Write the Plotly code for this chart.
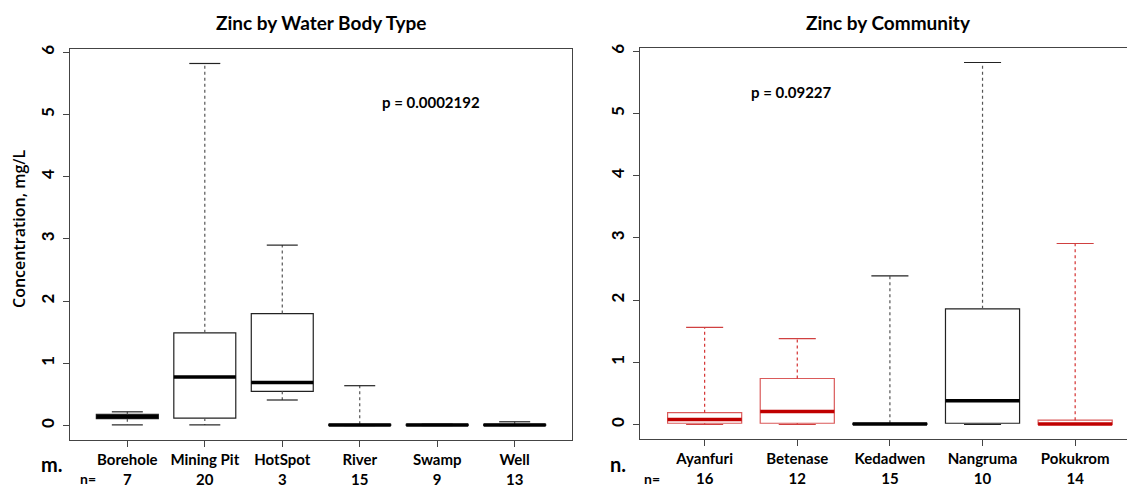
import plotly.graph_objects as go

# ---------------- data ----------------
water_types = ["Borehole", "Mining Pit", "HotSpot", "River", "Swamp", "Well"]
water_n = [7, 20, 3, 15, 9, 13]
water_min = [0.01, 0.01, 0.41, 0.00, 0.00, 0.00]
water_q1 = [0.11, 0.12, 0.55, 0.00, 0.00, 0.00]
water_med = [0.14, 0.78, 0.69, 0.01, 0.01, 0.01]
water_q3 = [0.18, 1.49, 1.80, 0.02, 0.02, 0.02]
water_max = [0.22, 5.82, 2.90, 0.64, 0.02, 0.06]
water_colors = ["black", "black", "black", "black", "black", "black"]

communities = ["Ayanfuri", "Betenase", "Kedadwen", "Nangruma", "Pokukrom"]
comm_n = [16, 12, 15, 10, 14]
comm_min = [0.00, 0.00, 0.00, 0.00, 0.00]
comm_q1 = [0.02, 0.02, 0.00, 0.02, 0.00]
comm_med = [0.08, 0.21, 0.01, 0.38, 0.01]
comm_q3 = [0.19, 0.74, 0.02, 1.86, 0.07]
comm_max = [1.56, 1.38, 2.39, 5.82, 2.91]
comm_colors = ["red", "red", "black", "black", "red"]

y_ticks = [0, 1, 2, 3, 4, 5, 6]
p_water = "p = 0.0002192"
p_comm = "p = 0.09227"

# ---------------- style ----------------
W, H = 1127, 487
FONT = "Lato"
STYLE = {
    "black": dict(box="#222222", med="#000000", whisk="#555555", cap="#222222"),
    "red": dict(box="#DA5A5A", med="#C00000", whisk="#D43030", cap="#D04040"),
}
BOXW = 0.8


def px_x(x):
    return x / W


def px_y(y):
    return 1 - y / H


fig = go.Figure()


def add_panel(cats, mins, q1s, meds, q3s, maxs, colors, xa, ya):
    for i, c in enumerate(cats):
        pos = i + 1
        st = STYLE[colors[i]]
        fig.add_trace(go.Box(
            x=[pos], q1=[q1s[i]], median=[meds[i]], q3=[q3s[i]],
            lowerfence=[q1s[i]], upperfence=[q3s[i]],
            width=BOXW, whiskerwidth=0, fillcolor="white",
            line=dict(color=st["box"], width=1.2),
            boxpoints=False, showlegend=False, hoverinfo="skip",
            xaxis=xa, yaxis=ya,
        ))
        fig.add_trace(go.Scatter(
            x=[pos, pos, None, pos, pos],
            y=[q3s[i], maxs[i], None, q1s[i], mins[i]],
            mode="lines", line=dict(color=st["whisk"], width=1.2, dash="3px,3px"),
            showlegend=False, hoverinfo="skip", xaxis=xa, yaxis=ya,
        ))
        hw = BOXW / 4
        fig.add_trace(go.Scatter(
            x=[pos - hw, pos + hw, None, pos - hw, pos + hw],
            y=[maxs[i], maxs[i], None, mins[i], mins[i]],
            mode="lines", line=dict(color=st["cap"], width=1.2),
            showlegend=False, hoverinfo="skip", xaxis=xa, yaxis=ya,
        ))
        fig.add_trace(go.Scatter(
            x=[pos - BOXW / 2, pos + BOXW / 2], y=[meds[i], meds[i]],
            mode="lines", line=dict(color=st["med"], width=3.5),
            showlegend=False, hoverinfo="skip", xaxis=xa, yaxis=ya,
        ))


add_panel(water_types, water_min, water_q1, water_med, water_q3, water_max,
          water_colors, "x", "y")
add_panel(communities, comm_min, comm_q1, comm_med, comm_q3, comm_max,
          comm_colors, "x2", "y2")

xtick_font = dict(family=FONT, size=15, color="black", weight="bold")
ytick_font = dict(family=FONT, size=17, color="black", weight="bold")
line_col = "#444444"

water_ticktext = [f"<b>{c}</b><br><b>{n}</b>" for c, n in zip(water_types, water_n)]
comm_ticktext = [f"<b>{c}</b><br><b>{n}</b>" for c, n in zip(communities, comm_n)]
y_ticktext = [f"<b>{v}</b>" for v in y_ticks]

x1_dom = [px_x(70), px_x(572)]
x2_left = 639.8
x2_dom = [px_x(x2_left), 1.0]
x2_hi = 0.3 + (W - x2_left) / ((1140 - x2_left) / 5.4)

y_dom1 = [px_y(440), px_y(49)]
y_dom2 = [px_y(439), px_y(48)]
y_rng = [-0.233, 6.053]

common_x = dict(
    showgrid=False, zeroline=False, showline=True, linecolor=line_col, linewidth=1,
    ticks="outside", ticklen=6, tickcolor=line_col, tickfont=xtick_font,
    ticklabelstandoff=0, automargin=False,
)
common_y = dict(
    showgrid=False, zeroline=False, showline=True, linecolor=line_col, linewidth=1,
    ticks="outside", ticklen=6, tickcolor=line_col, tickfont=ytick_font,
    tickvals=y_ticks, ticktext=y_ticktext, tickangle=-90, range=y_rng,
    ticklabelstandoff=2, automargin=False,
)

fig.update_layout(
    width=W, height=H,
    margin=dict(l=0, r=0, t=0, b=0, autoexpand=False),
    paper_bgcolor="white", plot_bgcolor="white",
    boxmode="overlay",
    showlegend=False,
    xaxis=dict(domain=x1_dom, range=[0.26, 6.74], tickvals=list(range(1, 7)),
               ticktext=water_ticktext, mirror=True, anchor="y", **common_x),
    yaxis=dict(domain=y_dom1, anchor="x", mirror=True, **common_y),
    xaxis2=dict(domain=x2_dom, range=[0.3, x2_hi], tickvals=list(range(1, 6)),
                ticktext=comm_ticktext, mirror=True, anchor="y2", **common_x),
    yaxis2=dict(domain=y_dom2, anchor="x2", mirror=False, **common_y),
    font=dict(family=FONT, color="black"),
)

ann_font = dict(family=FONT, color="black", weight="bold")
annotations = [
    dict(text="Zinc by Water Body Type", x=px_x(321), y=px_y(23), font=dict(size=19, **ann_font)),
    dict(text="Zinc by Community", x=px_x(888), y=px_y(23), font=dict(size=19, **ann_font)),
    dict(text=p_water, x=px_x(431), y=px_y(102), font=dict(size=15, **ann_font)),
    dict(text=p_comm, x=px_x(791), y=px_y(92), font=dict(size=15, **ann_font)),
    dict(text="Concentration, mg/L", x=px_x(19), y=px_y(229), textangle=-90,
         font=dict(size=16, family="Open Sans", color="black", weight=600)),
    dict(text="m.", x=px_x(52), y=px_y(464), font=dict(size=20, **ann_font)),
    dict(text="n.", x=px_x(618), y=px_y(464), font=dict(size=20, **ann_font)),
    dict(text="n=", x=px_x(88), y=px_y(478), font=dict(size=14, **ann_font)),
    dict(text="n=", x=px_x(652), y=px_y(478), font=dict(size=14, **ann_font)),
]
for a in annotations:
    a.update(xref="paper", yref="paper", showarrow=False, xanchor="center", yanchor="middle")
fig.update_layout(annotations=annotations)

fig.write_html("out.html")
